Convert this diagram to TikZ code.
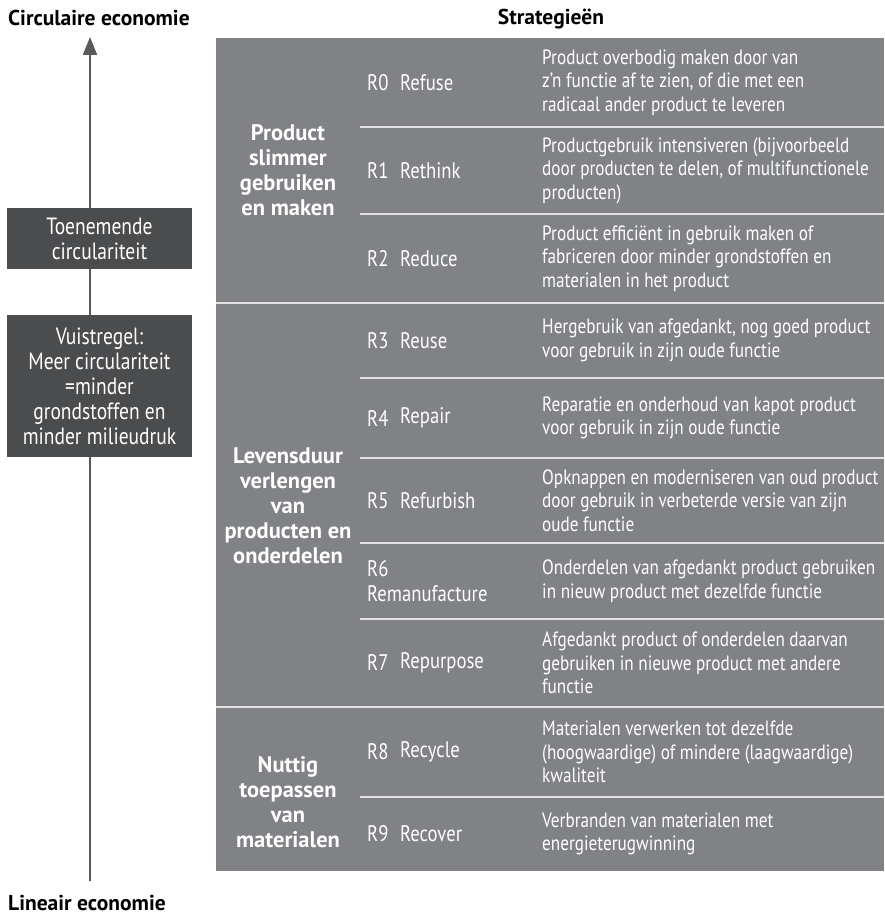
\documentclass[tikz,border=0pt]{standalone}
\usepackage{fontspec}
\setmainfont{PT Sans}[FakeStretch=0.83,BoldFeatures={FakeStretch=1.0}]
\usetikzlibrary{arrows.meta}
\definecolor{tablegray}{HTML}{808285}
\definecolor{boxgray}{HTML}{4B4C4E}
\definecolor{arrowgray}{HTML}{58595B}
\definecolor{rulegray}{HTML}{E2E2E3}
\definecolor{colgray}{HTML}{848588}

\begin{document}
\begin{tikzpicture}[x=1pt, y=-1pt,
    heading/.style={inner sep=0pt, font=\bfseries\fontsize{21.5}{26}\selectfont},
    darkbox/.style={fill=boxgray, text=white, align=center, inner sep=0pt,
      minimum width=185pt, font=\fontsize{23.5}{25}\selectfont},
    cell/.style={text=white, anchor=west, align=left, inner sep=0pt,
      font=\fontsize{22.5}{25}\selectfont},
    desccell/.style={cell, font=\fontsize{20.7}{23.5}\selectfont},
    group/.style={text=white, align=center, inner sep=0pt,
      font=\bfseries\fontsize{22.5}{25}\selectfont}]
  \useasboundingbox (0,0) rectangle (884,915);

  \node[heading, anchor=west] (circtitle) at (8,18) {Circulaire economie};
  \node[heading] (strat) at (551,19) {Strategieën};
  \node[heading, anchor=west] (lintitle) at (8,903) {Lineair economie};

  \coordinate (linend) at (90,881);
  \coordinate (circend) at (90,37);
  \draw[arrowgray, line width=2pt, -{Triangle[width=14pt,length=18pt]}] (linend) -- (circend);
  \node[darkbox, minimum height=61pt] (trend) at (99.5,238.5) {Toenemende\\circulariteit};
  \node[darkbox, minimum height=142pt] (thumb) at (99.5,386)
    {Vuistregel:\\Meer circulariteit\\=minder\\grondstoffen en\\minder milieudruk};

  \fill[tablegray] (216,38) rectangle (884,871);
  \draw[colgray] (360,38) -- (360,871) (534,38) -- (534,871);
  \foreach \y in {127,214,378,458,543,619,797}
    \draw[rulegray, line width=1.3pt] (360,\y) -- (884,\y);
  \foreach \y in {303,707}
    \draw[rulegray, line width=1.3pt] (216,\y) -- (884,\y);

  \node[group] (smart) at (288,170) {Product\\slimmer\\gebruiken\\en maken};
  \node[group] (life) at (288,506) {Levensduur\\verlengen\\van\\producten en\\onderdelen};
  \node[group] (useful) at (288,802) {Nuttig\\toepassen\\van\\materialen};

  \foreach \i/\code/\name/\ya/\yb/\desc in {
    0/R0/Refuse/38/127/{Product overbodig maken door van\\z'n functie af te zien, of die met een\\radicaal ander product te leveren},
    1/R1/Rethink/127/214/{Productgebruik intensiveren (bijvoorbeeld\\door producten te delen, of multifunctionele\\producten)},
    2/R2/Reduce/214/303/{Product efficiënt in gebruik maken of\\fabriceren door minder grondstoffen en\\materialen in het product},
    3/R3/Reuse/303/378/{Hergebruik van afgedankt, nog goed product\\voor gebruik in zijn oude functie},
    4/R4/Repair/378/458/{Reparatie en onderhoud van kapot product\\voor gebruik in zijn oude functie},
    5/R5/Refurbish/458/543/{Opknappen en moderniseren van oud product\\door gebruik in verbeterde versie van zijn\\oude functie},
    6/{R6\\Remanufacture}/{}/543/619/{Onderdelen van afgedankt product gebruiken\\in nieuw product met dezelfde functie},
    7/R7/Repurpose/619/707/{Afgedankt product of onderdelen daarvan\\gebruiken in nieuwe product met andere\\functie},
    8/R8/Recycle/707/797/{Materialen verwerken tot dezelfde\\(hoogwaardige) of mindere (laagwaardige)\\kwaliteit},
    9/R9/Recover/797/871/{Verbranden van materialen met\\energieterugwinning}} {
    \node[cell] (code\i) at (367,{(\ya+\yb)/2}) {\code};
    \node[cell] (name\i) at (400,{(\ya+\yb)/2}) {\name};
    \node[desccell] (desc\i) at (542,{(\ya+\yb)/2}) {\desc};
  }
\end{tikzpicture}
\end{document}
